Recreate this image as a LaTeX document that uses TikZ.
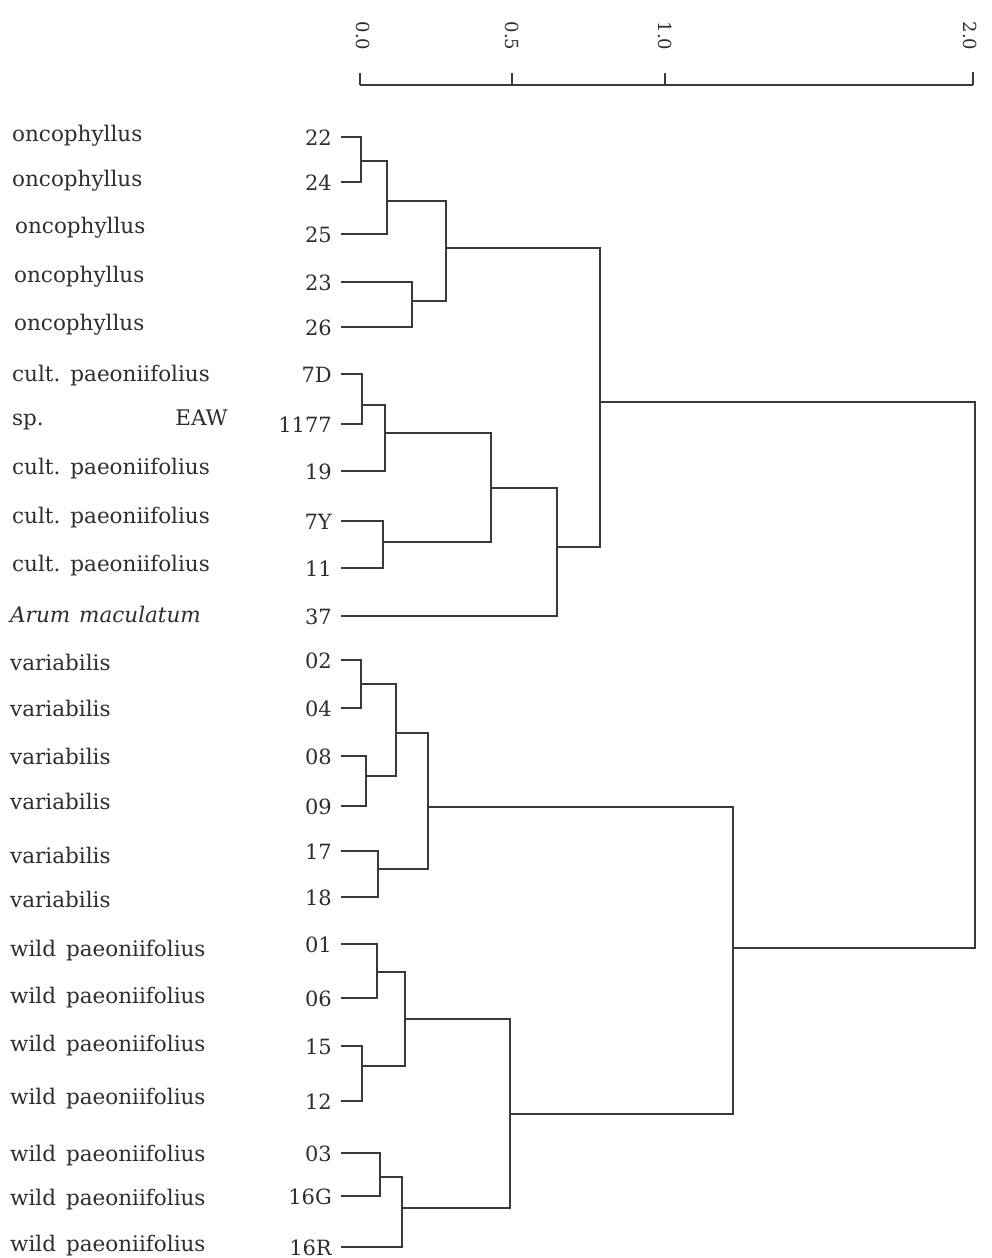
\documentclass[tikz,border=0pt]{standalone}
\usepackage{fontspec}
\setmainfont{DejaVu Serif}
\definecolor{ink}{HTML}{2E2E2E}
\definecolor{wire}{HTML}{3A3A3A}
\newcommand{\cultp}{cult.\hspace{10pt}paeoniifolius}
\newcommand{\wildp}{wild\hspace{10pt}paeoniifolius}
\begin{document}
\begin{tikzpicture}[x=1pt,y=-1pt,
  lbl/.style={anchor=base west,inner sep=0pt,text=ink,font=\fontsize{21.5}{26}\selectfont},
  lblr/.style={anchor=base east,inner sep=0pt,text=ink,font=\fontsize{21.5}{26}\selectfont},
  num/.style={anchor=base east,inner ysep=0pt,inner xsep=9pt,text=ink,font=\fontsize{21}{25}\selectfont},
  axl/.style={rotate=-90,inner sep=0pt,text=ink,font=\fontsize{18}{22}\selectfont},
  br/.style={draw=wire,line width=1.8pt},
  tk/.style={draw=wire,line width=1.8pt}]
\useasboundingbox (0,0) rectangle (991,1258);
\fill[white] (0,0) rectangle (991,1258);

% axis
\coordinate (ax0) at (360,85);
\coordinate (ax05) at (512,85);
\coordinate (ax1) at (665,85);
\coordinate (ax2) at (973,85);
\draw[tk] (ax0) -- (ax2);
\draw[tk] (ax0) -- ++(0,-12);
\draw[tk] (ax05) -- ++(0,-12);
\draw[tk] (ax1) -- ++(0,-12);
\draw[tk] (ax2) -- ++(0,-13);
\node[axl] (x0) at (363,36) {0.0};
\node[axl] (x05) at (512,36) {0.5};
\node[axl] (x1) at (665,36) {1.0};
\node[axl] (x2) at (970,36) {2.0};

% leaf numbers
\foreach \n/\y in {22/138,24/183,25/235,23/283,26/328,7D/375,1177/425,19/472,7Y/522,11/569,37/617,
  02/661,04/709,08/757,09/807,17/852,18/898,01/945,06/999,15/1047,12/1102,03/1154,16G/1197,16R/1248}
  \node[num] (t\n) at (341,\y+7) {\n};

% left labels
\node[lbl] (s22) at (12,141) {oncophyllus};
\node[lbl] (s24) at (12,186) {oncophyllus};
\node[lbl] (s25) at (15,233) {oncophyllus};
\node[lbl] (s23) at (14,282) {oncophyllus};
\node[lbl] (s26) at (14,330) {oncophyllus};
\node[lbl] (s7D) at (12,381) {\cultp};
\node[lbl] (s1177) at (12,425) {sp.};
\node[lblr] (s1177b) at (228,425) {EAW};
\node[lbl] (s19) at (12,474) {\cultp};
\node[lbl] (s7Y) at (12,523) {\cultp};
\node[lbl] (s11) at (12,571) {\cultp};
\node[lbl] (s37) at (10,622) {\itshape Arum\hspace{9pt}maculatum};
\node[lbl] (s02) at (10,670) {variabilis};
\node[lbl] (s04) at (10,716) {variabilis};
\node[lbl] (s08) at (10,764) {variabilis};
\node[lbl] (s09) at (10,809) {variabilis};
\node[lbl] (s17) at (10,863) {variabilis};
\node[lbl] (s18) at (10,907) {variabilis};
\node[lbl] (s01) at (10,956) {\wildp};
\node[lbl] (s06) at (10,1003) {\wildp};
\node[lbl] (s15) at (10,1051) {\wildp};
\node[lbl] (s12) at (10,1104) {\wildp};
\node[lbl] (s03) at (10,1161) {\wildp};
\node[lbl] (s16G) at (10,1205) {\wildp};
\node[lbl] (s16R) at (10,1251) {\wildp};

% merge points
\coordinate (a1) at (361,161);
\coordinate (a2) at (387,201);
\coordinate (a3) at (412,301);
\coordinate (a4) at (446,248);
\coordinate (b1) at (362,405);
\coordinate (b2) at (385,433);
\coordinate (b3) at (383,542);
\coordinate (b4) at (491,488);
\coordinate (b5) at (557,547);
\coordinate (top) at (600,402);
\coordinate (c1) at (361,684);
\coordinate (c2) at (366,776);
\coordinate (c3) at (396,733);
\coordinate (c4) at (378,869);
\coordinate (c5) at (428,807);
\coordinate (d1) at (377,972);
\coordinate (d2) at (362,1066);
\coordinate (d3) at (405,1019);
\coordinate (d4) at (380,1177);
\coordinate (d5) at (402,1208);
\coordinate (d6) at (510,1114);
\coordinate (e1) at (733,948);
\coordinate (root) at (975,675);

\draw[br] (t22.east) -| (a1) |- (t24.east);
\draw[br] (a1) -| (a2) |- (t25.east);
\draw[br] (t23.east) -| (a3) |- (t26.east);
\draw[br] (a2) -| (a4) |- (a3);
\draw[br] (t7D.east) -| (b1) |- (t1177.east);
\draw[br] (b1) -| (b2) |- (t19.east);
\draw[br] (t7Y.east) -| (b3) |- (t11.east);
\draw[br] (b2) -| (b4) |- (b3);
\draw[br] (b4) -| (b5) |- (t37.east);
\draw[br] (a4) -| (top) |- (b5);
\draw[br] (t02.east) -| (c1) |- (t04.east);
\draw[br] (t08.east) -| (c2) |- (t09.east);
\draw[br] (c1) -| (c3) |- (c2);
\draw[br] (t17.east) -| (c4) |- (t18.east);
\draw[br] (c3) -| (c5) |- (c4);
\draw[br] (t01.east) -| (d1) |- (t06.east);
\draw[br] (t15.east) -| (d2) |- (t12.east);
\draw[br] (d1) -| (d3) |- (d2);
\draw[br] (t03.east) -| (d4) |- (t16G.east);
\draw[br] (d4) -| (d5) |- (t16R.east);
\draw[br] (d3) -| (d6) |- (d5);
\draw[br] (c5) -| (e1) |- (d6);
\draw[br] (top) -| (root) |- (e1);
\end{tikzpicture}
\end{document}
